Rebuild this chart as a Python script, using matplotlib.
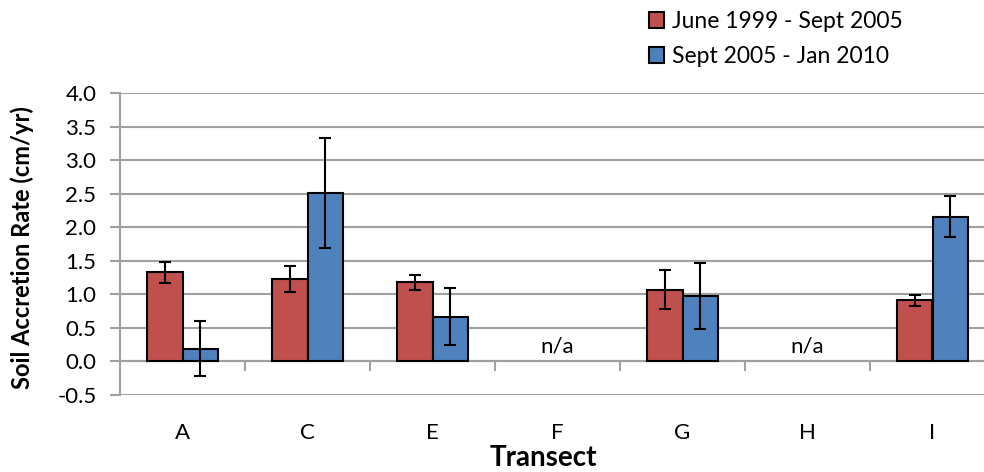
import matplotlib
matplotlib.use('Agg')
import matplotlib.pyplot as plt
import numpy as np

plt.rcParams['font.family'] = ['Lato', 'DejaVu Sans']

transects = ['A', 'C', 'E', 'F', 'G', 'H', 'I']
period1_label = 'June 1999 - Sept 2005'
period2_label = 'Sept 2005 - Jan 2010'
# None = no data (n/a)
period1 = [1.33, 1.23, 1.18, None, 1.07, None, 0.91]
period1_err = [0.16, 0.19, 0.11, None, 0.29, None, 0.08]
period2 = [0.19, 2.52, 0.67, None, 0.98, None, 2.16]
period2_err = [0.41, 0.82, 0.43, None, 0.49, None, 0.31]

RED = '#C0504D'
BLUE = '#4F81BD'
GRID = '#A0A0A0'

fig = plt.figure(figsize=(9.84, 4.72), dpi=100)
ax = fig.add_axes([120 / 984, 1 - 395 / 472, 864 / 984, (395 - 93.3) / 472])

x = np.arange(len(transects))
width = 0.284


def draw_series(offset, values, errors, color, label):
    xs = [xi + offset for xi, v in zip(x, values) if v is not None]
    vs = [v for v in values if v is not None]
    es = [e for e in errors if e is not None]
    ax.bar(xs, vs, width, color=color, edgecolor='black', linewidth=1.5,
           label=label, zorder=3)
    ax.errorbar(xs, vs, yerr=es, fmt='none', ecolor='black', elinewidth=1.5,
                capsize=4.5, capthick=1.5, zorder=4)


draw_series(-width / 2, period1, period1_err, RED, period1_label)
draw_series(width / 2, period2, period2_err, BLUE, period2_label)

# n/a labels where neither period has data
for xi, a, b in zip(x, period1, period2):
    if a is None and b is None:
        ax.text(xi, 0.22, 'n/a', ha='center', va='center', fontsize=16)

ax.set_ylim(-0.5, 4.0)
ax.set_xlim(-0.5, len(transects) - 0.5 - 11 / 125)
ax.set_yticks(np.arange(-0.5, 4.01, 0.5))
ax.yaxis.set_major_formatter(matplotlib.ticker.FormatStrFormatter('%.1f'))
ax.yaxis.grid(True, color=GRID, linewidth=1.5, zorder=0)
ax.set_axisbelow(True)

for side in ['top', 'right', 'bottom']:
    ax.spines[side].set_visible(False)
ax.spines['left'].set_color(GRID)
ax.spines['left'].set_linewidth(1.5)

ax.tick_params(axis='y', length=7, width=1.5, color=GRID, labelsize=16, pad=10)
ax.set_xticks(x)
ax.set_xticklabels(transects)
ax.tick_params(axis='x', length=0, labelsize=16, pad=20)

# category axis at zero with tick marks between categories
ax.axhline(0, color=GRID, linewidth=1.5, zorder=2)
for b in np.arange(0.5, len(transects) - 1, 1.0):
    ax.plot([b, b], [0, -0.12], color=GRID, linewidth=1.5, zorder=2,
            clip_on=False)

ax.set_ylabel('Soil Accretion Rate (cm/yr)', fontsize=17, fontweight='bold')
ax.yaxis.set_label_coords(-86 / 864, 0.49)
ax.set_xlabel('Transect', fontsize=20, fontweight='bold', va='baseline')
ax.xaxis.set_label_coords(0.49, -(466 - 395) / 301.7)

leg = fig.legend(loc='upper left', bbox_to_anchor=(628 / 984, 1.02),
                 frameon=False, fontsize=16.5, handlelength=0.65,
                 handleheight=0.65, handletextpad=0.35, labelspacing=0.6)
for h in leg.legend_handles:
    h.set_linewidth(1.5)

fig.savefig('out.png', dpi=100)
